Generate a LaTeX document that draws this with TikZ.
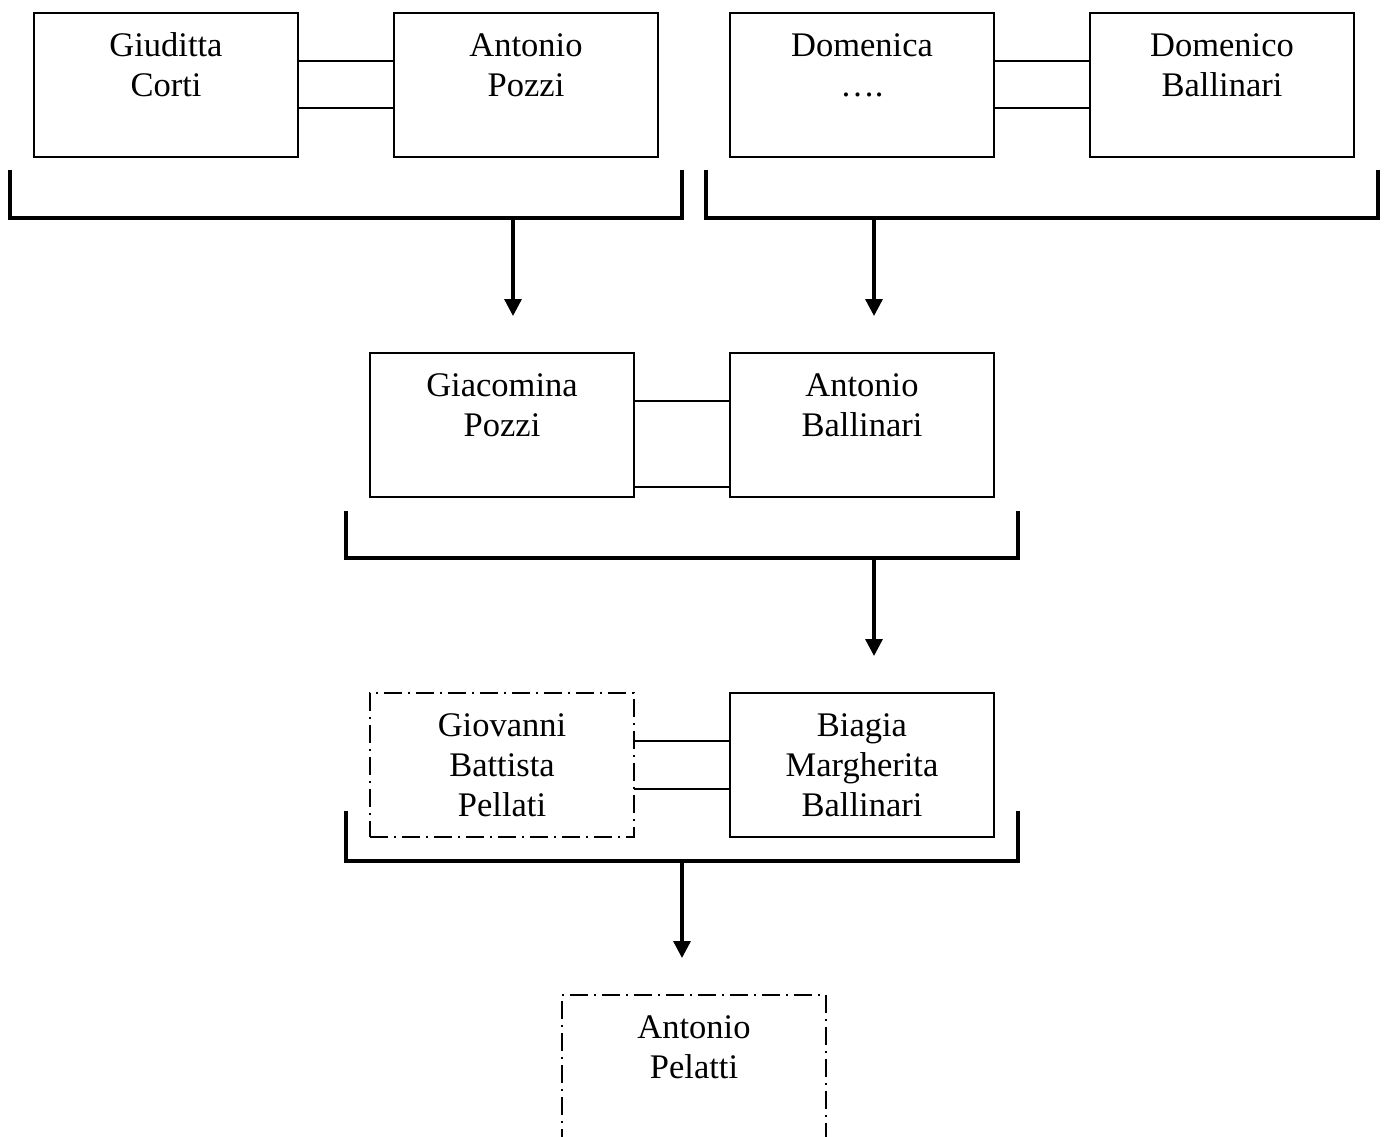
\documentclass[tikz,border=0pt]{standalone}
\usepackage{fontspec}
\setmainfont{Liberation Serif}
\usetikzlibrary{calc,arrows.meta}
\begin{document}
\begin{tikzpicture}[x=1pt,y=-1pt,
  box/.style={draw=black,line width=1.8pt,minimum width=264pt,minimum height=144pt,inner sep=0pt,outer sep=0pt},
  dbox/.style={box,dash pattern=on 18pt off 6pt on 2pt off 6pt},
  txt/.style={align=center,font=\fontsize{34.5pt}{40pt}\selectfont,inner sep=0pt},
  link/.style={line width=1.3pt},
  brk/.style={line width=3.8pt,line cap=rect},
  arr/.style={line width=3.3pt,-{Triangle[width=17pt,length=17pt]}}]
\useasboundingbox (0,0) rectangle (1391,1136);
% row 1
\node[box] (gc) at (166,85) {};
\node[txt] (gct) at (166,65) {Giuditta\\Corti};
\node[box] (ap) at (526,85) {};
\node[txt] (apt) at (526,65) {Antonio\\Pozzi};
\node[box] (de) at (862,85) {};
\node[txt] (det) at (862,65) {Domenica\\….};
\node[box] (db) at (1222,85) {};
\node[txt] (dbt) at (1222,65) {Domenico\\Ballinari};
\draw[link] ($(gc.north east)+(0,48)$) -- ($(ap.north west)+(0,48)$);
\draw[link] ($(gc.north east)+(0,95)$) -- ($(ap.north west)+(0,95)$);
\draw[link] ($(de.north east)+(0,48)$) -- ($(db.north west)+(0,48)$);
\draw[link] ($(de.north east)+(0,95)$) -- ($(db.north west)+(0,95)$);
% brackets row 1
\coordinate (b1a) at (10,172); \coordinate (b1b) at (682,218);
\draw[brk] (b1a) -- (b1a |- b1b) -- (b1b) -- (b1b |- b1a);
\coordinate (b2a) at (706,172); \coordinate (b2b) at (1378,218);
\draw[brk] (b2a) -- (b2a |- b2b) -- (b2b) -- (b2b |- b2a);
\coordinate (s1) at (513,218); \coordinate (e1) at (513,316);
\coordinate (s2) at (874,218); \coordinate (e2) at (874,316);
\draw[arr] (s1) -- (e1);
\draw[arr] (s2) -- (e2);
% row 2
\node[box] (gp) at (502,425) {};
\node[txt] (gpt) at (502,405) {Giacomina\\Pozzi};
\node[box] (ab) at (862,425) {};
\node[txt] (abt) at (862,405) {Antonio\\Ballinari};
\draw[link] ($(gp.north east)+(0,48)$) -- ($(ab.north west)+(0,48)$);
\draw[link] ($(gp.north east)+(0,134)$) -- ($(ab.north west)+(0,134)$);
\coordinate (b3a) at (346,513); \coordinate (b3b) at (1018,558);
\draw[brk] (b3a) -- (b3a |- b3b) -- (b3b) -- (b3b |- b3a);
\coordinate (s3) at (874,558); \coordinate (e3) at (874,656);
\draw[arr] (s3) -- (e3);
% row 3
\node[dbox] (gb) at (502,765) {};
\node[txt] (gbt) at (502,765) {Giovanni\\Battista\\Pellati};
\node[box] (bm) at (862,765) {};
\node[txt] (bmt) at (862,765) {Biagia\\Margherita\\Ballinari};
\draw[link] ($(gb.north east)+(0,48)$) -- ($(bm.north west)+(0,48)$);
\draw[link] ($(gb.north east)+(0,96)$) -- ($(bm.north west)+(0,96)$);
\coordinate (b4a) at (346,813); \coordinate (b4b) at (1018,861);
\draw[brk] (b4a) -- (b4a |- b4b) -- (b4b) -- (b4b |- b4a);
\coordinate (s4) at (682,861); \coordinate (e4) at (682,958);
\draw[arr] (s4) -- (e4);
% row 4
\node[dbox,minimum height=170pt] (pa) at (694,1080) {};
\node[txt] (pat) at (694,1047) {Antonio\\Pelatti};
\end{tikzpicture}
\end{document}
